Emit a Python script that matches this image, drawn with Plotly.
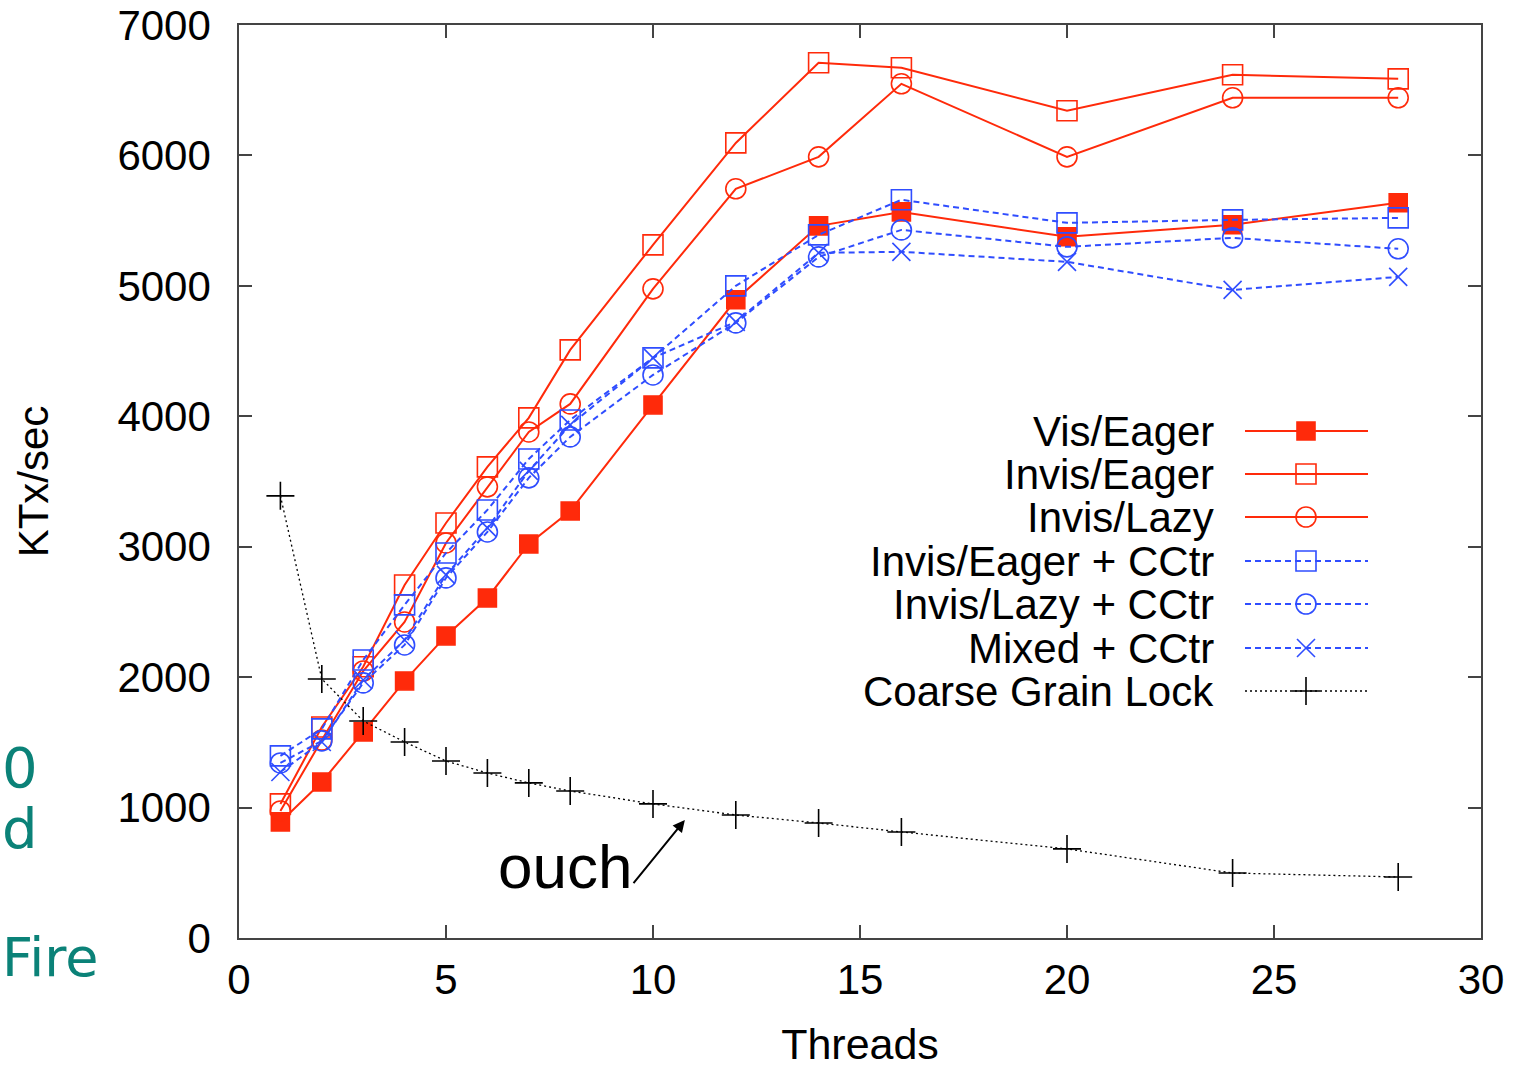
import plotly.graph_objects as go

threads = [1, 2, 3, 4, 5, 6, 7, 8, 10, 12, 14, 16, 20, 24, 28]

vis_eager = [890, 1196, 1580, 1971, 2316, 2607, 3021, 3274, 4087, 4893, 5460, 5567, 5376, 5468, 5637]
invis_eager = [1028, 1618, 2080, 2707, 3182, 3612, 3988, 4509, 5314, 6096, 6710, 6672, 6342, 6618, 6587]
invis_lazy = [974, 1518, 2047, 2423, 3029, 3459, 3880, 4095, 4977, 5744, 5989, 6549, 5989, 6442, 6442]
invis_eager_cctr = [1396, 1603, 2132, 2554, 2952, 3282, 3673, 3972, 4448, 5000, 5391, 5660, 5483, 5506, 5521]
invis_lazy_cctr = [1342, 1511, 1956, 2247, 2761, 3113, 3528, 3842, 4317, 4716, 5222, 5429, 5299, 5368, 5284]
mixed_cctr = [1273, 1503, 1978, 2285, 2784, 3144, 3581, 3934, 4448, 4724, 5253, 5261, 5184, 4969, 5069]
coarse_lock = [3390, 1986, 1664, 1503, 1357, 1265, 1189, 1127, 1028, 943, 882, 813, 683, 498, 468]

series_names = ["Vis/Eager", "Invis/Eager", "Invis/Lazy", "Invis/Eager + CCtr",
                "Invis/Lazy + CCtr", "Mixed + CCtr", "Coarse Grain Lock"]

x_ticks = [0, 5, 10, 15, 20, 25, 30]
y_ticks = [0, 1000, 2000, 3000, 4000, 5000, 6000, 7000]

RED = "#ff2a0a"
BLUE = "#2f4dff"
BLACK = "#000000"
FONT = "Liberation Sans, Arial, Helvetica, sans-serif"

styles = [
    dict(color=RED, dash="solid", symbol="square", msize=18, lw=2),
    dict(color=RED, dash="solid", symbol="square-open", msize=20, lw=2),
    dict(color=RED, dash="solid", symbol="circle-open", msize=20, lw=2),
    dict(color=BLUE, dash="6px,4px", symbol="square-open", msize=20, lw=2),
    dict(color=BLUE, dash="6px,4px", symbol="circle-open", msize=20, lw=2),
    dict(color=BLUE, dash="6px,4px", symbol="x-thin-open", msize=18, lw=2),
    dict(color=BLACK, dash="2px,3px", symbol="cross-thin-open", msize=20, lw=1.3),
]
data = [vis_eager, invis_eager, invis_lazy, invis_eager_cctr, invis_lazy_cctr, mixed_cctr, coarse_lock]

fig = go.Figure()
for name, ys, st in zip(series_names, data, styles):
    fig.add_trace(go.Scatter(
        x=threads, y=ys, name=name, mode="lines+markers",
        line=dict(color=st["color"], width=st["lw"], dash=st["dash"]),
        marker=dict(symbol=st["symbol"], size=st["msize"], color=st["color"],
                    line=dict(color=st["color"], width=1.6)),
        showlegend=False, cliponaxis=False,
    ))

# Custom right-aligned legend (overlay axes in pixel units of the plot area)
leg_rows = [431, 474, 517, 561, 604, 648, 691]
for name, st, yrow in zip(series_names, styles, leg_rows):
    fig.add_trace(go.Scatter(
        x=[1245, 1306, 1368], y=[yrow, yrow, yrow], mode="lines",
        line=dict(color=st["color"], width=st["lw"], dash=st["dash"]),
        xaxis="x2", yaxis="y2", showlegend=False, hoverinfo="skip",
    ))
    fig.add_trace(go.Scatter(
        x=[1306], y=[yrow], mode="markers",
        marker=dict(symbol=st["symbol"], size=st["msize"], color=st["color"],
                    line=dict(color=st["color"], width=1.6)),
        xaxis="x2", yaxis="y2", showlegend=False, hoverinfo="skip",
    ))
    fig.add_annotation(x=1216, y=yrow, xref="x2", yref="y2", text=name,
                       showarrow=False, xanchor="right", yanchor="middle",
                       font=dict(family=FONT, size=42, color="black"))

# "ouch" annotation with arrow
fig.add_annotation(x=10.77, y=905, xref="x", yref="y", ax=9.5, ay=410,
                   axref="x", ayref="y", showarrow=True, arrowhead=2, arrowsize=1.2,
                   arrowwidth=2, arrowcolor="black", text="")
fig.add_annotation(x=9.55, y=545, xref="x", yref="y", text="ouch", showarrow=False,
                   xanchor="right", yanchor="middle",
                   font=dict(family=FONT, size=62, color="black"))

# Teal slide remnants at the left edge
TEAL = "#0b8278"
TFONT = "DejaVu Sans, sans-serif"
pw = 1242.0
ph = 913.0
def px(xp):
    return (xp - 239) / pw
def py(yp):
    return (938 - yp) / ph
fig.add_annotation(x=px(0), y=py(767), xref="paper", yref="paper", text="0", showarrow=False,
                   xanchor="left", yanchor="middle", font=dict(family=TFONT, size=56, color=TEAL))
fig.add_annotation(x=px(0), y=py(828), xref="paper", yref="paper", text="d", showarrow=False,
                   xanchor="left", yanchor="middle", font=dict(family=TFONT, size=56, color=TEAL))
fig.add_annotation(x=px(0), y=py(957), xref="paper", yref="paper", text="Fire", showarrow=False,
                   xanchor="left", yanchor="middle", font=dict(family=TFONT, size=54, color=TEAL))

axis_common = dict(showgrid=False, zeroline=False, showline=True, linecolor="#444444",
                   linewidth=1.5, mirror="allticks", ticks="inside", ticklen=13,
                   tickwidth=1.5, tickcolor="#444444", ticklabeloverflow="allow",
                   tickfont=dict(family=FONT, size=42, color="black"))

fig.update_layout(
    width=1521, height=1068,
    margin=dict(l=239, r=40, t=25, b=130, autoexpand=False),
    paper_bgcolor="white", plot_bgcolor="white",
    xaxis=dict(range=[0, 30], tickvals=x_ticks, ticklabelstandoff=4,
               title=dict(text="Threads", font=dict(family=FONT, size=43, color="black"), standoff=32),
               **axis_common),
    yaxis=dict(range=[0, 7000], tickvals=y_ticks, ticklabelstandoff=18,
               title=dict(text="KTx/sec", font=dict(family=FONT, size=42, color="black"), standoff=56),
               **axis_common),
    xaxis2=dict(range=[239, 1481], overlaying="x", visible=False, fixedrange=True),
    yaxis2=dict(range=[938, 25], overlaying="y", visible=False, fixedrange=True),
    showlegend=False,
)

# Remove the default 8px page margin so the figure fills the window exactly.
fig.write_html("out.html", config={"displayModeBar": False},
               post_script="document.body.style.margin='0';")
